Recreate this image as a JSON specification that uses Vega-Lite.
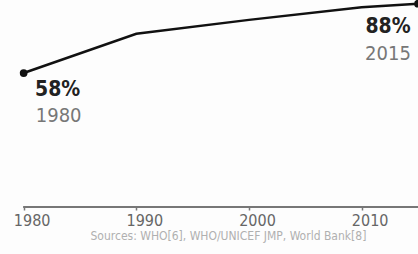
{
  "$schema": "https://vega.github.io/schema/vega-lite/v6.json",
  "width": 418,
  "height": 207,
  "autosize": "none",
  "padding": {"left": 0, "right": 0, "top": 0, "bottom": 47},
  "background": "#fdfdfd",
  "config": {"view": {"stroke": null}},
  "data": {"values": [
    {"year": 1980, "value": 58, "pct": "58%", "yr": "1980", "end": "start"},
    {"year": 1990, "value": 75, "pct": "", "yr": "", "end": "none"},
    {"year": 2000, "value": 81, "pct": "", "yr": "", "end": "none"},
    {"year": 2010, "value": 86.5, "pct": "", "yr": "", "end": "none"},
    {"year": 2015, "value": 88, "pct": "88%", "yr": "2015", "end": "end"}
  ]},
  "encoding": {
    "x": {"field": "year", "type": "quantitative",
      "scale": {"domain": [1977.9, 2015], "nice": false, "zero": false},
      "axis": {"values": [1980, 1990, 2000, 2010], "format": "d", "domain": false, "grid": false,
        "tickSize": 3, "tickColor": "#777", "tickWidth": 1.5,
        "labelFont": "DejaVu Sans Condensed", "labelFontSize": 16, "labelColor": "#666", "labelPadding": 2, "labelOffset": 8,
        "title": "Sources: WHO[6], WHO/UNICEF JMP, World Bank[8]", "titleFont": "DejaVu Sans Condensed", "titleFontSize": 12,
        "titleFontWeight": "normal", "titleColor": "#b0b0b0", "titleAnchor": "start", "titleAlign": "left", "titleX": 90, "titlePadding": 2}},
    "y": {"field": "value", "type": "quantitative", "scale": {"domain": [0, 89.6], "nice": false}, "axis": null}
  },
  "layer": [
    {"mark": {"type": "rule", "color": "#777", "strokeWidth": 2},
     "encoding": {"x": {"datum": 1980}, "x2": {"datum": 2015}, "y": {"datum": 0}}},
    {"mark": {"type": "line", "color": "#111", "strokeWidth": 2.5}},
    {"transform": [{"filter": "datum.end != 'none'"}],
     "mark": {"type": "circle", "color": "#111", "opacity": 1, "size": 60}},
    {"transform": [{"filter": "datum.end == 'start'"}],
     "mark": {"type": "text", "font": "DejaVu Sans Condensed", "fontWeight": "bold", "fontSize": 21, "color": "#222", "dx": 34, "dy": 17, "baseline": "middle"},
     "encoding": {"text": {"field": "pct"}}},
    {"transform": [{"filter": "datum.end == 'start'"}],
     "mark": {"type": "text", "font": "DejaVu Sans Condensed", "fontSize": 20, "color": "#777", "dx": 35, "dy": 43, "baseline": "middle"},
     "encoding": {"text": {"field": "yr"}}},
    {"transform": [{"filter": "datum.end == 'end'"}],
     "mark": {"type": "text", "font": "DejaVu Sans Condensed", "fontWeight": "bold", "fontSize": 21, "color": "#222", "dx": -30, "dy": 23, "baseline": "middle"},
     "encoding": {"text": {"field": "pct"}}},
    {"transform": [{"filter": "datum.end == 'end'"}],
     "mark": {"type": "text", "font": "DejaVu Sans Condensed", "fontSize": 20, "color": "#777", "dx": -30, "dy": 50, "baseline": "middle"},
     "encoding": {"text": {"field": "yr"}}}
  ]
}
